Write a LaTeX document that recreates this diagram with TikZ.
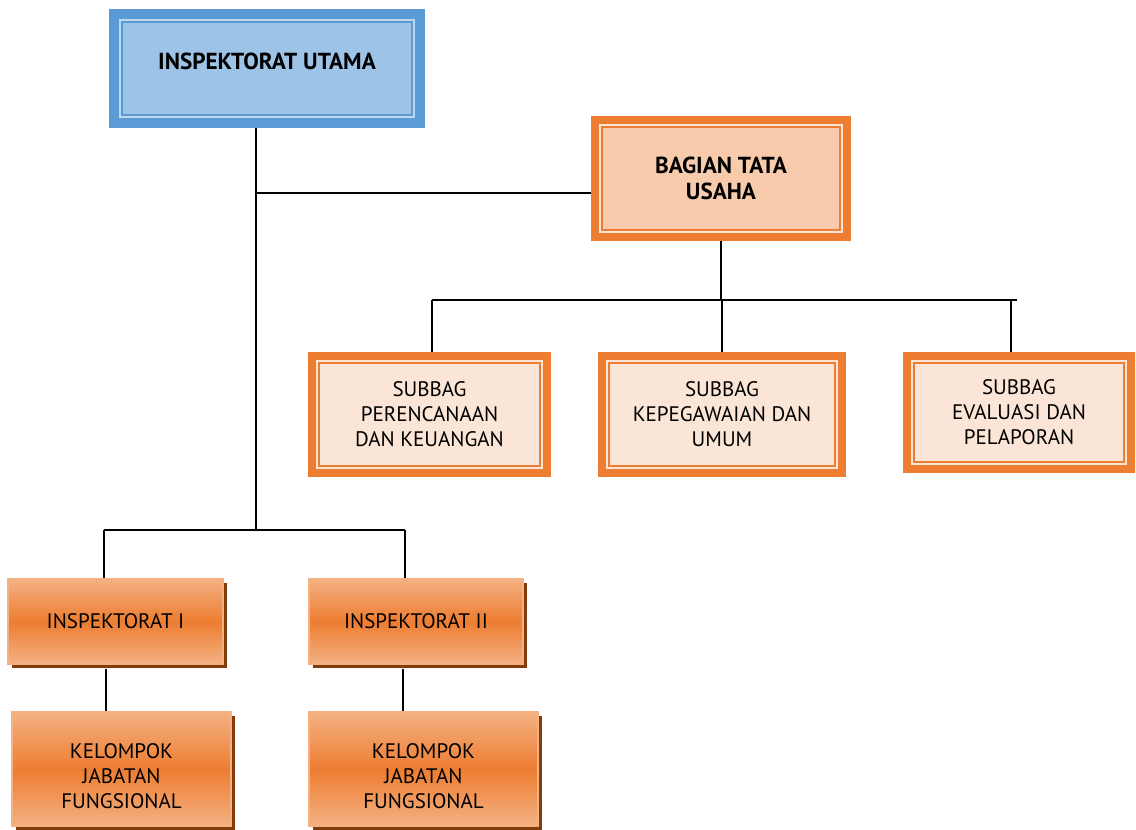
\documentclass[tikz,border=0pt]{standalone}
\usepackage{fontspec}
\setmainfont{PT Sans}
\usetikzlibrary{calc,shadows}

\definecolor{blueframe}{HTML}{5B9BD5}
\definecolor{bluefill}{HTML}{9DC3E6}
\definecolor{bluestrip}{HTML}{BDD7EE}
\definecolor{orframe}{HTML}{ED7D31}
\definecolor{orfill}{HTML}{F8CBAD}
\definecolor{orpale}{HTML}{FBE5D6}
\definecolor{orlight}{HTML}{F4B183}
\definecolor{orshadow}{HTML}{843C0C}

\tikzset{
  orgtext/.style={align=center, inner sep=0pt, font=\fontsize{15.75}{18.75}\selectfont},
  boldtext/.style={font=\fontsize{17.4}{19.5}\selectfont\bfseries},
  wire/.style={line width=1.6pt, black},
  % double frame: thick outer line, pale strip, thin inner line
  bluebox/.style={orgtext, boldtext,
    fill=bluefill, draw=blueframe, line width=1.5pt,
    preaction={draw=blueframe, line width=19.5pt},
    preaction={draw=bluestrip, line width=4.5pt}, outer sep=9.75pt},
  orbox/.style={orgtext, fill=#1, draw=orframe, line width=1.5pt,
    preaction={draw=orframe, line width=16.5pt},
    preaction={draw=orpale, line width=4.5pt}, outer sep=8.25pt},
  gradbox/.style={orgtext, draw=orlight, line width=1pt,
    top color=orlight, bottom color=orlight, middle color=orframe,
    drop shadow={shadow xshift=3pt, shadow yshift=-3pt, fill=orshadow, opacity=1}},
}

\begin{document}
\begin{tikzpicture}[x=0.75pt, y=-0.75pt]
    \useasboundingbox (0,0) rectangle (1136,829);

    % Pimpinan
    \node[bluebox, minimum width=217.5pt, minimum height=69.75pt, text depth=11pt] (utama) at (267,68.5) {INSPEKTORAT UTAMA};
    \node[orbox=orfill, boldtext, minimum width=178.5pt, minimum height=77.25pt] (tatausaha) at (721,178.5) {BAGIAN TATA\\USAHA};

    % Subbagian
    \node[orbox=orpale, minimum width=165.75pt, minimum height=77.25pt] (sub1) at (429.5,414.5) {SUBBAG\\PERENCANAAN\\DAN KEUANGAN};
    \node[orbox=orpale, minimum width=169.5pt, minimum height=77.25pt] (sub2) at (722,414.5) {SUBBAG\\KEPEGAWAIAN DAN\\UMUM};
    \node[orbox=orpale, minimum width=157.5pt, minimum height=74.25pt] (sub3) at (1019,412.5) {SUBBAG\\EVALUASI DAN\\PELAPORAN};

    % Inspektorat wilayah
    \node[gradbox, minimum width=161.25pt, minimum height=63.75pt] (insp1) at (115.5,621.5) {INSPEKTORAT I};
    \node[gradbox, minimum width=160.5pt, minimum height=63.75pt] (insp2) at (416,621.5) {INSPEKTORAT II};
    \node[gradbox, minimum width=164.25pt, minimum height=85.5pt] (kel1) at (121.5,769) {\rule{0pt}{21.5pt}KELOMPOK\\JABATAN\\FUNGSIONAL};
    \node[gradbox, minimum width=171.75pt, minimum height=85.5pt] (kel2) at (423.5,769) {\rule{0pt}{21.5pt}KELOMPOK\\JABATAN\\FUNGSIONAL};

    % Garis
    \coordinate (trunk) at (256,530);
    \coordinate (tuin) at ($(tatausaha.west)+(0,14.5)$);
    \draw[wire] (utama.south -| trunk) -- (trunk);
    \draw[wire] (tuin) -- (tuin -| trunk);

    \coordinate (barL) at (432,300);
    \coordinate (barR) at (1017,300);
    \coordinate (s3top) at (1011,300);
    \draw[wire] (tatausaha.south) -- (tatausaha.south |- barL);
    \draw[wire] (barL) -- (barR);
    \draw[wire] (barL) -- (barL |- sub1.north);
    \draw[wire] (sub2.north |- barL) -- (sub2.north);
    \draw[wire] (s3top) -- (s3top |- sub3.north);

    \coordinate (barB1) at (104,530);
    \coordinate (barB2) at (405,530);
    \draw[wire] (barB1) -- (barB2);
    \draw[wire] (barB1) -- (barB1 |- insp1.north);
    \draw[wire] (barB2) -- (barB2 |- insp2.north);

    \coordinate (d1) at ($(insp1.south)+(-9.5,4)$);
    \coordinate (d2) at ($(insp2.south)+(-13,4)$);
    \draw[wire] (d1) -- (d1 |- kel1.north);
    \draw[wire] (d2) -- (d2 |- kel2.north);
\end{tikzpicture}
\end{document}
